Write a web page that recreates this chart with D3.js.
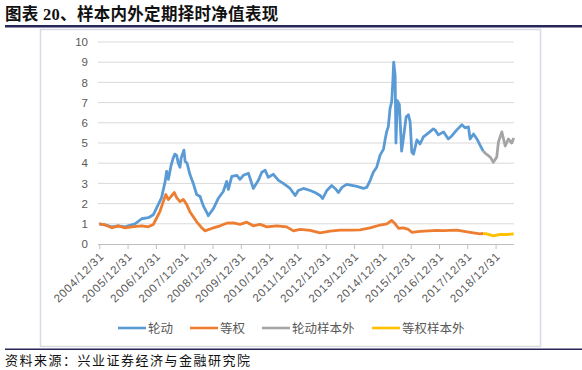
<!DOCTYPE html>
<html><head><meta charset="utf-8">
<script src="https://cdn.jsdelivr.net/npm/d3@7/dist/d3.min.js"></script>
<style>body{margin:0;background:#fff;} svg{display:block;}</style>
</head><body><svg id="c" width="582" height="370"></svg>
<script>
const titleText = "图表 20、样本内外定期择时净值表现";
const sourceText = "资料来源：兴业证券经济与金融研究院";
const seriesNames = ["轮动", "等权", "轮动样本外", "等权样本外"];
const seriesColors = ["#5B9BD5", "#ED7D31", "#A5A5A5", "#FFC000"];
const yTicks = [0, 1, 2, 3, 4, 5, 6, 7, 8, 9, 10];
const xTickYears = [2005, 2006, 2007, 2008, 2009, 2010, 2011, 2012, 2013, 2014, 2015, 2016, 2017, 2018, 2019];
const xTickLabels = ["2004/12/31", "2005/12/31", "2006/12/31", "2007/12/31", "2008/12/31", "2009/12/31", "2010/12/31", "2011/12/31", "2012/12/31", "2013/12/31", "2014/12/31", "2015/12/31", "2016/12/31", "2017/12/31", "2018/12/31"];

// 轮动 (in-sample rotation)
const rotT = [2005.00, 2005.20, 2005.44, 2005.66, 2005.91, 2006.08, 2006.26, 2006.50, 2006.73, 2006.91, 2007.03, 2007.20, 2007.32, 2007.38, 2007.44, 2007.53, 2007.61, 2007.67, 2007.73, 2007.79, 2007.85, 2007.89, 2007.99, 2008.03, 2008.10, 2008.20, 2008.32, 2008.44, 2008.56, 2008.67, 2008.80, 2008.85, 2009.03, 2009.20, 2009.38, 2009.50, 2009.56, 2009.68, 2009.86, 2009.97, 2010.09, 2010.27, 2010.44, 2010.62, 2010.74, 2010.86, 2010.97, 2011.15, 2011.33, 2011.50, 2011.74, 2011.92, 2012.03, 2012.21, 2012.45, 2012.62, 2012.80, 2012.89, 2013.04, 2013.21, 2013.33, 2013.45, 2013.57, 2013.74, 2013.92, 2014.10, 2014.33, 2014.45, 2014.57, 2014.68, 2014.80, 2014.92, 2015.04, 2015.10, 2015.16, 2015.21, 2015.27, 2015.33, 2015.37, 2015.40, 2015.45, 2015.48, 2015.53, 2015.60, 2015.68, 2015.74, 2015.84, 2015.92, 2015.98, 2016.04, 2016.10, 2016.22, 2016.33, 2016.45, 2016.63, 2016.80, 2016.86, 2016.98, 2017.16, 2017.33, 2017.45, 2017.63, 2017.81, 2017.92, 2018.04, 2018.10, 2018.22, 2018.34, 2018.45, 2018.56];
const rotV = [1.00, 0.95, 0.85, 0.90, 0.85, 0.92, 1.00, 1.25, 1.30, 1.45, 1.80, 2.30, 3.05, 3.60, 3.20, 3.85, 4.25, 4.45, 4.40, 4.00, 3.80, 4.25, 4.65, 4.10, 4.00, 3.45, 3.00, 2.45, 2.35, 1.90, 1.55, 1.40, 1.75, 2.25, 2.60, 3.10, 2.70, 3.35, 3.40, 3.20, 3.40, 3.50, 2.75, 3.15, 3.55, 3.65, 3.30, 3.45, 3.15, 3.00, 2.75, 2.40, 2.65, 2.75, 2.65, 2.55, 2.40, 2.25, 2.65, 2.90, 2.75, 2.55, 2.80, 2.95, 2.90, 2.85, 2.75, 2.80, 3.15, 3.55, 3.80, 4.40, 4.70, 5.20, 5.60, 5.80, 6.70, 7.05, 8.05, 9.00, 8.35, 5.00, 7.10, 6.90, 4.60, 5.20, 6.30, 6.40, 6.05, 4.55, 4.45, 5.15, 4.95, 5.30, 5.50, 5.70, 5.65, 5.40, 5.55, 5.20, 5.35, 5.65, 5.90, 5.75, 5.80, 5.20, 5.45, 5.20, 4.90, 4.60];

// 等权 (in-sample equal weight)
const eqT = [2005.00, 2005.20, 2005.44, 2005.67, 2005.91, 2006.14, 2006.50, 2006.73, 2006.91, 2007.03, 2007.14, 2007.26, 2007.35, 2007.44, 2007.53, 2007.65, 2007.73, 2007.85, 2007.97, 2008.09, 2008.20, 2008.32, 2008.44, 2008.62, 2008.73, 2008.97, 2009.27, 2009.50, 2009.73, 2009.97, 2010.21, 2010.44, 2010.68, 2010.92, 2011.27, 2011.62, 2011.86, 2012.09, 2012.45, 2012.80, 2013.15, 2013.51, 2013.86, 2014.21, 2014.57, 2014.92, 2015.16, 2015.33, 2015.45, 2015.57, 2015.74, 2015.92, 2016.04, 2016.33, 2016.92, 2017.16, 2017.63, 2018.10, 2018.45, 2018.56];
const eqV = [1.00, 0.95, 0.80, 0.90, 0.80, 0.85, 0.90, 0.85, 0.97, 1.30, 1.60, 2.10, 2.45, 2.20, 2.35, 2.55, 2.30, 2.10, 2.20, 1.95, 1.60, 1.35, 1.10, 0.80, 0.65, 0.77, 0.90, 1.03, 1.05, 0.97, 1.08, 0.90, 0.97, 0.85, 0.90, 0.85, 0.65, 0.72, 0.67, 0.55, 0.64, 0.69, 0.69, 0.70, 0.80, 0.94, 1.00, 1.17, 1.00, 0.78, 0.80, 0.72, 0.58, 0.62, 0.67, 0.66, 0.69, 0.58, 0.50, 0.52];

// 轮动样本外 (out-of-sample rotation)
const rotOutT = [2018.56, 2018.63, 2018.81, 2018.92, 2019.04, 2019.10, 2019.22, 2019.34, 2019.45, 2019.57, 2019.64];
const rotOutV = [4.60, 4.50, 4.30, 4.05, 4.30, 5.05, 5.55, 4.85, 5.20, 5.00, 5.25];

// 等权样本外 (out-of-sample equal weight)
const eqOutT = [2018.56, 2018.69, 2018.92, 2019.16, 2019.40, 2019.64];
const eqOutV = [0.52, 0.50, 0.40, 0.48, 0.47, 0.50];

const svg = d3.select("#c");
const serifCJK = "'Liberation Serif','Noto Sans CJK SC',serif";
const sansCJK = "'Noto Sans CJK SC','Liberation Sans',sans-serif";

// header
svg.append("text").attr("x", 5).attr("y", 20).attr("font-family", serifCJK)
  .attr("font-weight", "bold").attr("font-size", 16.5).attr("letter-spacing", 0.3).attr("fill", "#111").text(titleText);
svg.append("rect").attr("x", 5).attr("y", 25).attr("width", 577).attr("height", 2.5).attr("fill", "#262659");
// chart box
svg.append("rect").attr("x", 40.5).attr("y", 29.5).attr("width", 500).attr("height", 317)
  .attr("fill", "#fff").attr("stroke", "#d9d9e3").attr("stroke-width", 1.5);
// footer
svg.append("rect").attr("x", 5).attr("y", 348.5).attr("width", 577).attr("height", 1.5).attr("fill", "#262659");
svg.append("text").attr("x", 5).attr("y", 365).attr("font-family", serifCJK)
  .attr("font-size", 13).attr("letter-spacing", 1.5).attr("fill", "#111").text(sourceText);

const x = d3.scaleLinear().domain([2005, 2019.65]).range([99.3, 514]);
const y = d3.scaleLinear().domain([0, 10]).range([244, 42]);

// gridlines
svg.append("g").selectAll("line").data(yTicks.filter(d => d > 0)).join("line")
  .attr("x1", 98).attr("x2", 514).attr("y1", d => y(d)).attr("y2", d => y(d))
  .attr("stroke", "#d9d9d9").attr("stroke-width", 1);

// y axis labels
const yAxis = d3.axisLeft(y).tickValues(yTicks).tickSize(0).tickPadding(10).tickFormat(d3.format("d"));
const gy = svg.append("g").attr("transform", "translate(98,0)").call(yAxis);
gy.select(".domain").remove();
gy.selectAll("text").attr("font-family", "'Liberation Sans',sans-serif").attr("font-size", 11.5).attr("fill", "#595959");

// x axis
const xAxis = d3.axisBottom(x).tickValues(xTickYears).tickSize(5)
  .tickFormat((d, i) => xTickLabels[i]);
const gx = svg.append("g").attr("transform", "translate(0,244)").call(xAxis);
gx.select(".domain").attr("stroke", "#bfbfbf").attr("d", "M98,0.5H514");
gx.selectAll(".tick line").attr("stroke", "#bfbfbf");
gx.selectAll("text").attr("font-family", "'Liberation Sans',sans-serif").attr("font-size", 11.5)
  .attr("letter-spacing", 0.8).attr("fill", "#595959")
  .attr("text-anchor", "end").attr("dy", 0).attr("y", 0)
  .attr("transform", "translate(5,13) rotate(-45)");

// series
const line = d3.line().x(d => x(d[0])).y(d => y(d[1]));
const series = [
  [rotT, rotV], [eqT, eqV], [rotOutT, rotOutV], [eqOutT, eqOutV]
];
series.forEach((s, i) => {
  const pts = s[0].map((t, k) => [t, s[1][k]]);
  svg.append("path").datum(pts).attr("d", line).attr("fill", "none")
    .attr("stroke", seriesColors[i]).attr("stroke-width", 2.8).attr("stroke-linejoin", "round");
});

// legend
const legX = [118, 190, 262, 372];
const lg = svg.append("g");
seriesNames.forEach((n, i) => {
  lg.append("line").attr("x1", legX[i]).attr("x2", legX[i] + 28).attr("y1", 328).attr("y2", 328)
    .attr("stroke", seriesColors[i]).attr("stroke-width", 2.6);
  lg.append("text").attr("x", legX[i] + 30).attr("y", 332.5).attr("font-family", sansCJK)
    .attr("font-size", 12.5).attr("fill", "#595959").text(n);
});
</script></body></html>
